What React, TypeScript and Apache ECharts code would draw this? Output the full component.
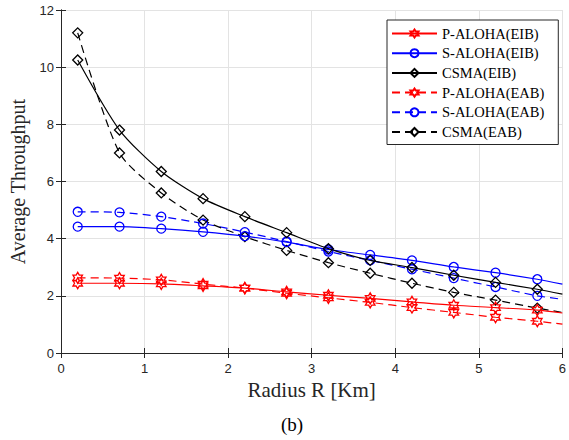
import React, { useEffect, useRef } from "react";
import * as echarts from "echarts";

const radius = [0.2, 0.7, 1.2, 1.7, 2.2, 2.7, 3.2, 3.7, 4.2, 4.7, 5.2, 5.7, 6.0];
const pAlohaEIB = [2.44, 2.44, 2.42, 2.35, 2.27, 2.14, 2.02, 1.91, 1.79, 1.67, 1.59, 1.5, 1.4];
const sAlohaEIB = [4.42, 4.42, 4.35, 4.24, 4.09, 3.88, 3.62, 3.43, 3.24, 3.01, 2.81, 2.58, 2.41];
const csmaEIB = [10.25, 7.8, 6.35, 5.4, 4.77, 4.21, 3.65, 3.24, 2.99, 2.72, 2.47, 2.23, 2.06];
const pAlohaEAB = [2.63, 2.62, 2.56, 2.41, 2.27, 2.09, 1.93, 1.77, 1.59, 1.42, 1.25, 1.11, 1.01];
const sAlohaEAB = [4.94, 4.92, 4.77, 4.53, 4.23, 3.9, 3.55, 3.24, 2.93, 2.62, 2.31, 2.0, 1.88];
const csmaEAB = [11.2, 7.0, 5.6, 4.65, 4.07, 3.59, 3.16, 2.79, 2.44, 2.12, 1.85, 1.57, 1.42];

const seriesNames = [
  "P-ALOHA(EIB)",
  "S-ALOHA(EIB)",
  "CSMA(EIB)",
  "P-ALOHA(EAB)",
  "S-ALOHA(EAB)",
  "CSMA(EAB)",
];

const HEX =
  "path://M50 0 L64.43 25 L93.3 25 L78.87 50 L93.3 75 L64.43 75 L50 100 L35.57 75 L6.7 75 L21.13 50 L6.7 25 L35.57 25 Z";

const SERIF = "Liberation Serif";
const SANS = "Liberation Sans";

function makeSeries(
  name: string,
  values: number[],
  color: string,
  symbol: string,
  size: number,
  dashed: boolean
) {
  return {
    name,
    type: "line",
    smooth: 0.25,
    symbol,
    symbolSize: size,
    symbolKeepAspect: true,
    data: values.map((v, i) =>
      i === values.length - 1
        ? { value: [radius[i], v], symbol: "none" }
        : { value: [radius[i], v] }
    ),
    lineStyle: { color, width: 1.2, type: dashed ? [8, 5] : "solid" },
    itemStyle: { color: "transparent", borderColor: color, borderWidth: 1.3 },
    emphasis: { disabled: true },
    z: dashed ? 3 : 4,
  };
}

export default function App() {
  const ref = useRef<HTMLDivElement>(null);
  useEffect(() => {
    if (!ref.current) return;
    const chart = echarts.init(ref.current, null, { renderer: "svg" });
    const axisLine = { show: true, lineStyle: { color: "#262626", width: 1 } };
    const tick = { show: true, inside: true, length: 5, lineStyle: { color: "#262626" } };
    chart.setOption({
      animation: false,
      backgroundColor: "#ffffff",
      grid: { left: 58, right: 5, top: 10, bottom: 87, containLabel: false },
      legend: {
        orient: "vertical",
        left: 387,
        top: 20,
        data: seriesNames,
        itemWidth: 45,
        itemHeight: 10,
        itemGap: 4.7,
        itemTextGap: 4,
        padding: [6, 14, 5, 4],
        borderColor: "#262626",
        borderWidth: 1,
        backgroundColor: "#ffffff",
        textStyle: { fontFamily: SERIF, fontSize: 14.5, color: "#000" },
      },
      xAxis: [
        {
          type: "value",
          min: 0,
          max: 6,
          interval: 1,
          name: "Radius R [Km]",
          nameLocation: "middle",
          nameGap: 20,
          nameTextStyle: { fontFamily: SERIF, fontSize: 21, color: "#262626" },
          axisLine,
          axisTick: tick,
          axisLabel: { fontFamily: SANS, fontSize: 13, color: "#262626", margin: 9 },
          splitLine: { show: true, lineStyle: { color: "#e3e3e3", width: 1 } },
        },
        {
          type: "value",
          position: "top",
          min: 0,
          max: 6,
          interval: 1,
          axisLine,
          axisTick: tick,
          axisLabel: { show: false },
          splitLine: { show: false },
        },
      ],
      yAxis: [
        {
          type: "value",
          min: 0,
          max: 12,
          interval: 2,
          name: "Average Throughput",
          nameLocation: "middle",
          nameGap: 33,
          nameTextStyle: { fontFamily: SERIF, fontSize: 20, color: "#262626" },
          axisLine,
          axisTick: tick,
          axisLabel: { fontFamily: SANS, fontSize: 13, color: "#262626", margin: 7 },
          splitLine: { show: true, lineStyle: { color: "#e3e3e3", width: 1 } },
        },
        {
          type: "value",
          position: "right",
          min: 0,
          max: 12,
          interval: 2,
          axisLine,
          axisTick: tick,
          axisLabel: { show: false },
          splitLine: { show: false },
        },
      ],
      series: [
        makeSeries(seriesNames[0], pAlohaEIB, "#ff0000", HEX, 11, false),
        makeSeries(seriesNames[1], sAlohaEIB, "#0000ff", "circle", 9, false),
        makeSeries(seriesNames[2], csmaEIB, "#000000", "diamond", 10, false),
        makeSeries(seriesNames[3], pAlohaEAB, "#ff0000", HEX, 11, true),
        makeSeries(seriesNames[4], sAlohaEAB, "#0000ff", "circle", 9, true),
        makeSeries(seriesNames[5], csmaEAB, "#000000", "diamond", 10, true),
      ],
      graphic: [
        {
          type: "text",
          style: {
            text: "(b)",
            x: 292,
            y: 424,
            textAlign: "center",
            textVerticalAlign: "middle",
            font: `19px ${SERIF}`,
            fill: "#000",
          },
        },
      ],
    });
    return () => chart.dispose();
  }, []);
  return (
    <div
      ref={ref}
      style={{ position: "absolute", left: 0, top: 0, width: 569, height: 440 }}
    />
  );
}
